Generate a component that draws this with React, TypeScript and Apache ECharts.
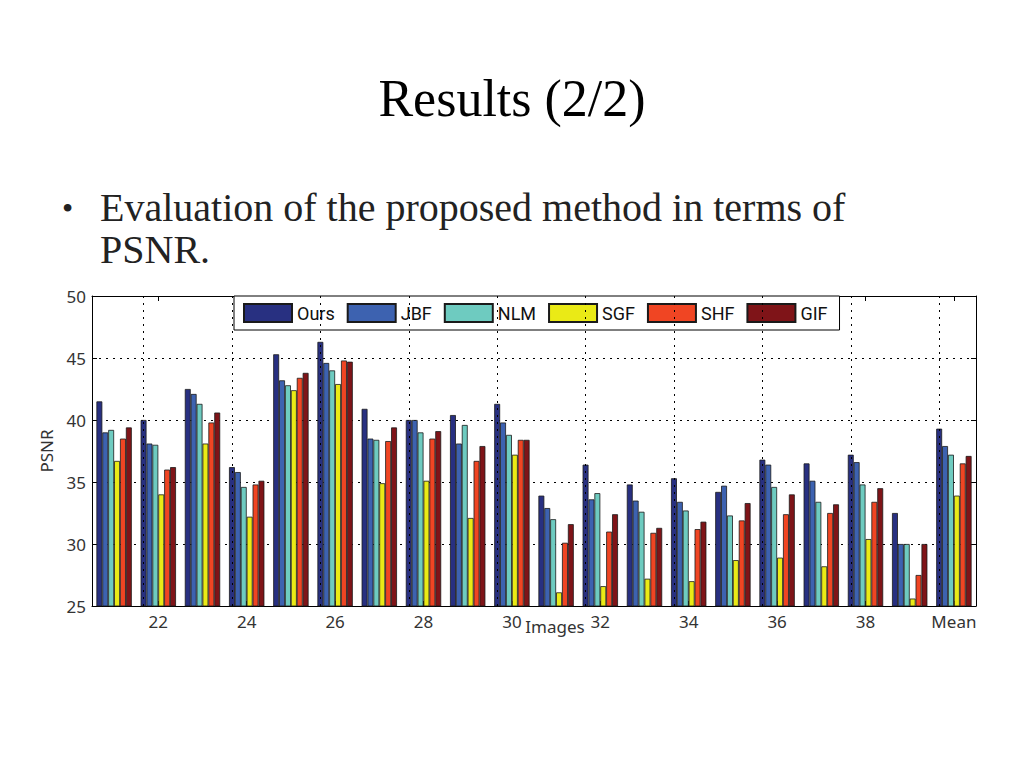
import React, { useEffect, useRef } from "react";
import * as echarts from "echarts";

const categories = ["21", "22", "23", "24", "25", "26", "27", "28", "29", "30", "31", "32", "33", "34", "35", "36", "37", "38", "39", "Mean"];
const gridCats = ["22", "24", "26", "28", "30", "32", "34", "36", "38", "Mean"];
const seriesNames = ["Ours", "JBF", "NLM", "SGF", "SHF", "GIF"];
const seriesColors = ["#283081", "#3d62b0", "#6ecbc0", "#eaea16", "#f04523", "#7f1418"];

const ours = [41.5, 40.0, 42.5, 36.2, 45.3, 46.3, 40.9, 40.0, 40.4, 41.3, 33.9, 36.4, 34.8, 35.3, 34.2, 36.8, 36.5, 37.2, 32.5, 39.3];
const jbf = [39.0, 38.1, 42.1, 35.8, 43.2, 44.6, 38.5, 40.0, 38.1, 39.8, 32.9, 33.6, 33.5, 33.4, 34.7, 36.4, 35.1, 36.6, 30.0, 37.9];
const nlm = [39.2, 38.0, 41.3, 34.6, 42.8, 44.0, 38.4, 39.0, 39.6, 38.8, 32.0, 34.1, 32.6, 32.7, 32.3, 34.6, 33.4, 34.8, 30.0, 37.2];
const sgf = [36.7, 34.0, 38.1, 32.2, 42.4, 42.9, 34.9, 35.1, 32.1, 37.2, 26.1, 26.6, 27.2, 27.0, 28.7, 28.9, 28.2, 30.4, 25.6, 33.9];
const shf = [38.5, 36.0, 39.8, 34.8, 43.4, 44.8, 38.3, 38.5, 36.7, 38.4, 30.1, 31.0, 30.9, 31.2, 31.9, 32.4, 32.5, 33.4, 27.5, 36.5];
const gif = [39.4, 36.2, 40.6, 35.1, 43.8, 44.7, 39.4, 39.1, 37.9, 38.4, 31.6, 32.4, 31.3, 31.8, 33.3, 34.0, 33.2, 34.5, 30.0, 37.1];

const yTicks = { min: 25, max: 50, interval: 5 };
const titleText = "Results (2/2)";
const bulletLine1 = "Evaluation of the proposed method in terms of";
const bulletLine2 = "PSNR.";

const allData = [ours, jbf, nlm, sgf, shf, gif];

export default function App() {
  const ref = useRef<HTMLDivElement>(null);
  useEffect(() => {
    if (!ref.current) return;
    const chart = echarts.init(ref.current, null, { renderer: "svg" });
    const axisFont = "Noto Sans";
    const legendFont = "Roboto";
    const tickIv = (i: number) => i % 2 === 1;
    const series: any[] = allData.map((d, i) => ({
      name: seriesNames[i],
      type: "bar",
      data: d,
      barGap: "0%",
      barCategoryGap: "20%",
      itemStyle: { color: seriesColors[i], borderColor: "#1a1a1a", borderWidth: 0.8 },
      ...(i === 0
        ? {
            markLine: {
              silent: true,
              symbol: "none",
              label: { show: false },
              lineStyle: { color: "#000", type: [2, 5], width: 1 },
              data: gridCats.map((c) => ({ xAxis: c })),
            },
          }
        : {}),
    }));
    chart.setOption({
      animation: false,
      backgroundColor: "#ffffff",
      graphic: [
        {
          type: "text",
          left: "center",
          top: 72,
          style: { text: titleText, font: "52px 'Liberation Serif'", fill: "#000" },
        },
        {
          type: "text",
          x: 62,
          y: 208,
          style: { text: "•", font: "32px 'Liberation Serif'", fill: "#222", verticalAlign: "middle" },
        },
        {
          type: "text",
          x: 100,
          y: 207,
          style: { text: bulletLine1, font: "40px 'Liberation Serif'", fill: "#222", verticalAlign: "middle" },
        },
        {
          type: "text",
          x: 100,
          y: 249,
          style: { text: bulletLine2, font: "40px 'Liberation Serif'", fill: "#222", verticalAlign: "middle" },
        },
      ],
      legend: {
        data: seriesNames,
        left: 234,
        top: 296,
        itemWidth: 48,
        itemHeight: 18,
        itemGap: 12,
        padding: [7, 12, 7, 9],
        backgroundColor: "#fff",
        borderColor: "#000",
        borderWidth: 1,
        borderRadius: 0,
        textStyle: { fontFamily: legendFont, fontSize: 18, color: "#111", width: 38, overflow: "none" },
        icon: "rect",
      },
      grid: { left: 92, right: 48, top: 296, bottom: 162 },
      xAxis: [
        {
          type: "category",
          data: categories,
          name: "Images",
          nameLocation: "middle",
          nameGap: 12,
          nameMoveOverlap: false,
          nameTextStyle: { fontFamily: axisFont, fontSize: 17, color: "#333", padding: [0, 0, 0, 42] },
          axisLine: { lineStyle: { color: "#000", width: 1 } },
          axisTick: { show: true, inside: true, alignWithLabel: true, interval: tickIv, length: 5, lineStyle: { color: "#000" } },
          axisLabel: { interval: tickIv, fontFamily: axisFont, fontSize: 17, color: "#333", margin: 7 },
          splitLine: { show: false },
        },
        {
          type: "category",
          data: categories,
          position: "top",
          axisLine: { lineStyle: { color: "#000", width: 1 } },
          axisTick: { show: true, inside: true, alignWithLabel: true, interval: tickIv, length: 5, lineStyle: { color: "#000" } },
          axisLabel: { show: false },
          splitLine: { show: false },
        },
      ],
      yAxis: [
        {
          type: "value",
          min: yTicks.min,
          max: yTicks.max,
          interval: yTicks.interval,
          name: "PSNR",
          nameLocation: "middle",
          nameRotate: 90,
          nameGap: 37,
          nameTextStyle: { fontFamily: axisFont, fontSize: 17, color: "#333" },
          axisLine: { show: true, lineStyle: { color: "#000", width: 1 } },
          axisTick: { show: true, inside: true, length: 5, lineStyle: { color: "#000" } },
          axisLabel: { fontFamily: axisFont, fontSize: 17, color: "#333", margin: 6 },
          splitLine: { show: true, lineStyle: { color: "#000", type: [2, 5], width: 1 } },
        },
        {
          type: "value",
          min: yTicks.min,
          max: yTicks.max,
          interval: yTicks.interval,
          position: "right",
          axisLine: { show: true, lineStyle: { color: "#000", width: 1 } },
          axisTick: { show: true, inside: true, length: 5, lineStyle: { color: "#000" } },
          axisLabel: { show: false },
          splitLine: { show: false },
        },
      ],
      series,
    });
    return () => chart.dispose();
  }, []);
  return <div ref={ref} style={{ position: "fixed", left: 0, top: 0, width: 1024, height: 768 }} />;
}
